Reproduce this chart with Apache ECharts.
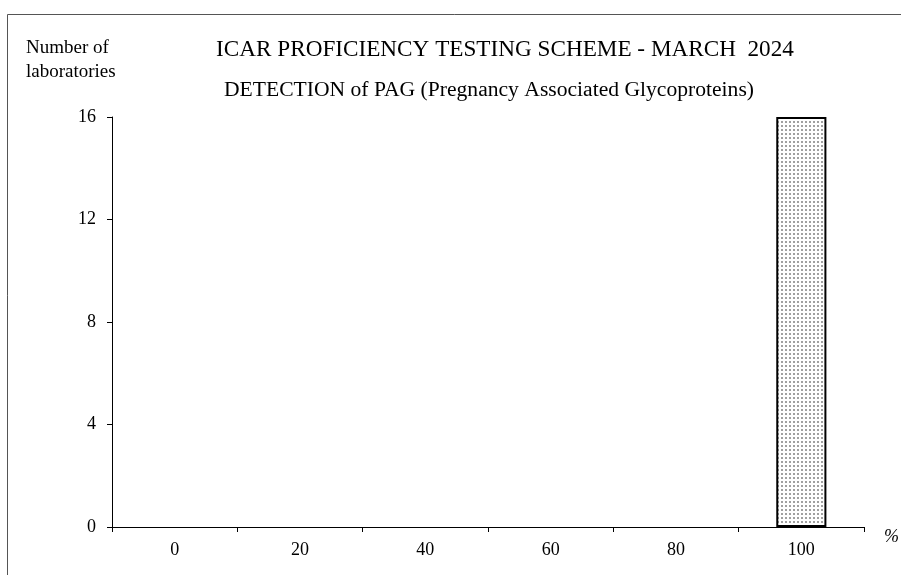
<!DOCTYPE html>
<html><head><meta charset="utf-8">
<script src="https://cdn.jsdelivr.net/npm/echarts@6/dist/echarts.min.js"></script>
<style>html,body{margin:0;padding:0;background:#fff}#c{width:901px;height:575px}</style>
</head><body><div id="c"></div>
<script>
const categories = ['0', '20', '40', '60', '80', '100'];
const labCounts = [0, 0, 0, 0, 0, 16];
const yTicks = [0, 4, 8, 12, 16];

const tile = document.createElement('canvas');
tile.width = 4; tile.height = 4;
const tc = tile.getContext('2d');
tc.fillStyle = '#ffffff'; tc.fillRect(0, 0, 4, 4);
tc.fillStyle = '#a0a0a0'; tc.fillRect(1, 1, 2, 2);

const font = '"Liberation Serif", "Times New Roman", serif';
const chart = echarts.init(document.getElementById('c'));
chart.setOption({
  animation: false,
  backgroundColor: '#fff',
  textStyle: { fontFamily: font, color: '#000' },
  title: [
    { text: 'ICAR PROFICIENCY TESTING SCHEME - MARCH  2024', left: 505, top: 38, padding: 0, textAlign: 'center',
      textStyle: { fontFamily: font, fontSize: 23.2, fontWeight: 'normal', color: '#000' } },
    { text: 'DETECTION of PAG (Pregnancy Associated Glycoproteins)', left: 489, top: 79, padding: 0, textAlign: 'center',
      textStyle: { fontFamily: font, fontSize: 21.6, fontWeight: 'normal', color: '#000' } },
    { text: 'Number of\nlaboratories', left: 26, top: 36, padding: 0,
      textStyle: { fontFamily: font, fontSize: 19, fontWeight: 'normal', color: '#000', lineHeight: 24 } },
    { text: '%', left: 884, top: 528, padding: 0,
      textStyle: { fontFamily: font, fontSize: 18, fontWeight: 'normal', fontStyle: 'italic', color: '#000' } }
  ],
  graphic: [
    { type: 'rect', shape: { x: 7.5, y: 14.5, width: 1000, height: 1000 }, style: { fill: 'none', stroke: '#555', lineWidth: 1 }, silent: true }
  ],
  grid: { left: 112, right: 37, top: 117, bottom: 48, containLabel: false },
  xAxis: {
    type: 'category', data: categories,
    axisLine: { lineStyle: { color: '#000', width: 1 } },
    axisTick: { show: true, alignWithLabel: false, length: 5, lineStyle: { color: '#000' } },
    axisLabel: { fontFamily: font, fontSize: 18, color: '#000', margin: 14 },
    splitLine: { show: false }
  },
  yAxis: {
    type: 'value', min: yTicks[0], max: yTicks[yTicks.length - 1], interval: 4,
    axisLine: { show: true, lineStyle: { color: '#000', width: 1 } },
    axisTick: { show: true, length: 5, lineStyle: { color: '#000' } },
    axisLabel: { fontFamily: font, fontSize: 18, color: '#000', margin: 16 },
    splitLine: { show: false }
  },
  series: [{
    type: 'bar', data: labCounts.map(v => (v === 0 ? '-' : v)), barWidth: '40%',
    itemStyle: { color: { image: tile, repeat: 'repeat' }, borderColor: '#000', borderWidth: 2 }
  }]
});
</script></body></html>
